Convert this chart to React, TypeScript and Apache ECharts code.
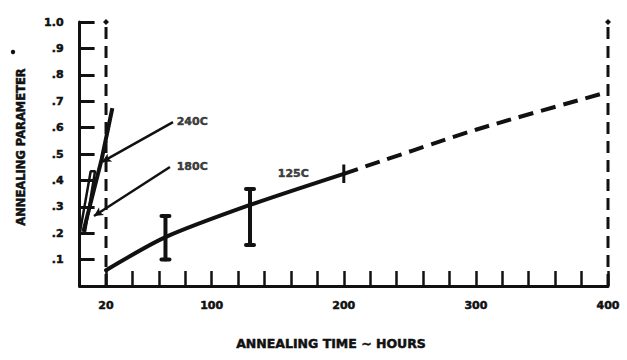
import React, { useEffect, useRef } from "react";
import * as echarts from "echarts";

const xLabelValues = [20, 100, 200, 300, 400];
const yTickLabels = [".1", ".2", ".3", ".4", ".5", ".6", ".7", ".8", ".9", "1.0"];

// 125C curve (hours, annealing parameter)
const solid125: number[][] = [[20, 0.06], [65, 0.185], [129, 0.307], [200, 0.425]];
const dashed125: number[][] = [[200, 0.425], [300, 0.592], [400, 0.735]];
// error bars: hours, low, high
const errorBars125: number[][] = [[65, 0.1, 0.265], [129, 0.155, 0.367]];
const endTick125: number[][] = [[200, 0.39], [200, 0.46]];
// 240C and 180C curves
const curve240: number[][] = [[2.8, 0.205], [16.7, 0.48], [24.8, 0.674]];
const curve180: number[][] = [[0.3, 0.205], [8.4, 0.435], [11.7, 0.435], [4.1, 0.205]];
// vertical dashed limits
const limitHours = [20, 400];
// annotations: label, label anchor, arrow tip
const annotNames = ["240C", "180C"];
const annotFrom: number[][] = [[70.7, 0.621], [68.4, 0.451]];
const annotTo: number[][] = [[17, 0.47], [10.9, 0.265]];
const annotLabelAt: number[][] = [[73.5, 0.625], [73.5, 0.451]];
const label125At: number[] = [150, 0.428];

const INK = "#111";
const FONT = "DejaVu Sans";

export default function App() {
  const ref = useRef<HTMLDivElement>(null);
  useEffect(() => {
    if (!ref.current) return;
    const chart = echarts.init(ref.current, undefined, { renderer: "svg" });
    const heavy = { textBorderColor: INK, textBorderWidth: 0.5 };
    const series: any[] = [];
    series.push({
      type: "line", data: solid125, smooth: 0.25, symbol: "none",
      lineStyle: { color: INK, width: 4, cap: "round" }, z: 3,
    });
    series.push({
      type: "line", data: dashed125, smooth: 0.2, symbol: "none",
      lineStyle: { color: INK, width: 4, type: [15, 8] }, z: 3,
    });
    series.push({
      type: "line", data: endTick125, symbol: "none",
      lineStyle: { color: INK, width: 3 }, z: 3,
    });
    series.push({
      type: "custom",
      data: errorBars125,
      encode: { x: 0, y: [1, 2] },
      renderItem: (params: any, api: any) => {
        const x = api.value(0);
        const lo = api.coord([x, api.value(1)]);
        const hi = api.coord([x, api.value(2)]);
        const st = { stroke: INK, lineWidth: 4, lineCap: "round" };
        return {
          type: "group",
          children: [
            { type: "line", shape: { x1: lo[0], y1: lo[1], x2: hi[0], y2: hi[1] }, style: st },
            { type: "line", shape: { x1: lo[0] - 4, y1: lo[1], x2: lo[0] + 4, y2: lo[1] }, style: st },
            { type: "line", shape: { x1: hi[0] - 4, y1: hi[1], x2: hi[0] + 4, y2: hi[1] }, style: st },
          ],
        };
      },
      z: 4,
    });
    series.push({
      type: "line", data: curve240, symbol: "none",
      lineStyle: { color: INK, width: 4 }, z: 3,
    });
    series.push({
      type: "line", data: curve180, symbol: "none",
      lineStyle: { color: INK, width: 2.5 }, z: 3,
    });
    limitHours.forEach((h) => {
      series.push({
        type: "line",
        data: [[h, 0], { value: [h, 1], symbol: "diamond", symbolSize: 6 }],
        symbol: "none", showSymbol: true,
        itemStyle: { color: INK },
        lineStyle: { color: INK, width: 3, type: [12, 7] }, z: 2,
      });
    });
    // annotation leader arrows
    series.push({
      type: "line", data: [], symbol: "none",
      markLine: {
        silent: true,
        symbol: ["none", "arrow"],
        symbolSize: [7, 9],
        label: { show: false },
        lineStyle: { color: INK, width: 2.5, type: "solid" },
        data: annotFrom.map((f, i) => [{ coord: f }, { coord: annotTo[i] }]),
      },
    });
    // text labels
    series.push({
      type: "scatter",
      symbolSize: 0,
      data: [
        ...annotNames.map((n, i) => ({ name: n, value: annotLabelAt[i] })),
        { name: "125C", value: label125At },
      ],
      label: {
        show: true, position: "right", distance: 0,
        formatter: (p: any) => p.name,
        color: INK, fontFamily: FONT, fontWeight: "bold", fontSize: 11, ...heavy,
      },
      z: 5,
    });

    chart.setOption({
      animation: false,
      backgroundColor: "#fff",
      grid: { left: 79.6, right: 19, top: 22, bottom: 74 },
      xAxis: {
        type: "value", min: 0, max: 400, interval: 20,
        axisLine: { show: true, lineStyle: { color: INK, width: 3 } },
        axisTick: { show: true, inside: true, length: 15, lineStyle: { color: INK, width: 2.5 } },
        axisLabel: {
          margin: 14, color: INK, fontFamily: FONT, fontWeight: "bold", fontSize: 11, ...heavy,
          formatter: (v: number) => (xLabelValues.includes(v) ? String(v) : ""),
        },
        splitLine: { show: false },
      },
      yAxis: {
        type: "value", min: 0, max: 1, interval: 0.1,
        axisLine: { show: true, lineStyle: { color: INK, width: 3 } },
        axisTick: { show: true, inside: true, length: 15, lineStyle: { color: INK, width: 3 } },
        axisLabel: {
          margin: 16, color: INK, fontFamily: FONT, fontWeight: "bold", fontSize: 11, ...heavy,
          formatter: (v: number) => {
            const i = Math.round(v * 10);
            return i > 0 ? yTickLabels[i - 1] : "";
          },
        },
        splitLine: { show: false },
      },
      graphic: [
        {
          type: "text", x: 331, y: 343,
          style: {
            text: "ANNEALING TIME ~ HOURS", align: "center", verticalAlign: "middle",
            fill: INK, font: `bold 12.5px "${FONT}"`, stroke: INK, lineWidth: 0.5,
          },
        },
        {
          type: "text", x: 21, y: 147, rotation: Math.PI / 2,
          style: {
            text: "ANNEALING PARAMETER", align: "center", verticalAlign: "middle",
            fill: INK, font: `bold 11.5px "${FONT}"`, stroke: INK, lineWidth: 0.5,
          },
        },
        { type: "circle", shape: { cx: 13, cy: 52, r: 2.2 }, style: { fill: INK } },
      ],
      series,
    });
    return () => chart.dispose();
  }, []);
  return (
    <div
      ref={ref}
      style={{ position: "fixed", left: 0, top: 0, width: 627, height: 360, background: "#fff" }}
    />
  );
}
